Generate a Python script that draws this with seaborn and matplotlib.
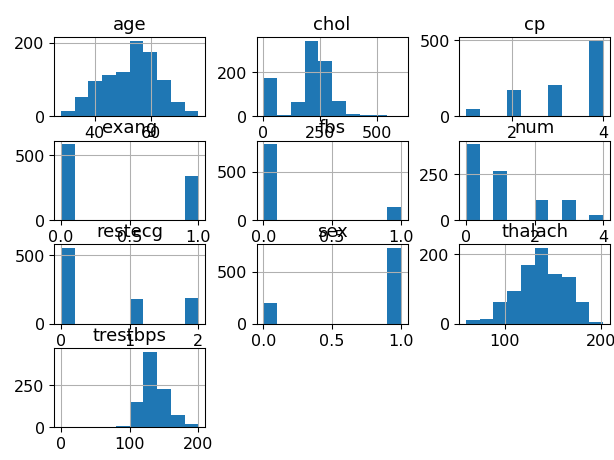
import numpy as np
import pandas as pd
import matplotlib
matplotlib.use("Agg")
import matplotlib.pyplot as plt
import seaborn as sns

# --- dati (conteggi per ogni barra, 10 bin per variabile) ---
columns = ["age", "chol", "cp", "exang", "fbs", "num", "restecg", "sex", "thalach", "trestbps"]

# variabili continue: intervallo (min, max) e conteggi dei 10 bin
age_range = (28, 77)
age_counts = [14, 51, 95, 113, 120, 205, 175, 99, 38, 14]
chol_range = (0, 603)
chol_counts = [172, 5, 64, 342, 248, 70, 12, 4, 3, 2]
thalach_range = (60, 202)
thalach_counts = [10, 14, 62, 93, 170, 217, 144, 134, 62, 5]
trestbps_range = (0, 200)
trestbps_counts = [1, 0, 0, 0, 10, 148, 447, 224, 73, 18]

# variabili discrete: valori e frequenze
cp_values = [1, 2, 3, 4]
cp_counts = [46, 174, 204, 496]
exang_values = [0, 1]
exang_counts = [583, 337]
fbs_values = [0, 1]
fbs_counts = [782, 138]
num_values = [0, 1, 2, 3, 4]
num_counts = [411, 265, 109, 107, 28]
restecg_values = [0, 1, 2]
restecg_counts = [553, 179, 188]
sex_values = [0, 1]
sex_counts = [194, 726]

# tick degli assi
xticks = {
    "age": [40, 60], "chol": [0, 250, 500], "cp": [2, 4], "exang": [0.0, 0.5, 1.0],
    "fbs": [0.0, 0.5, 1.0], "num": [0, 2, 4], "restecg": [0, 1, 2], "sex": [0.0, 0.5, 1.0],
    "thalach": [100, 200], "trestbps": [0, 100, 200],
}
yticks = {
    "age": [0, 200], "chol": [0, 200], "cp": [0, 500], "exang": [0, 500], "fbs": [0, 500],
    "num": [0, 250], "restecg": [0, 500], "sex": [0, 500], "thalach": [0, 200], "trestbps": [0, 250],
}


def continuous(rng, counts):
    # centro di ogni bin, pesato con il conteggio
    edges = np.linspace(rng[0], rng[1], len(counts) + 1)
    centers = (edges[:-1] + edges[1:]) / 2
    return centers, counts, rng


def discrete(values, counts):
    return values, counts, (min(values), max(values))


data = {
    "age": continuous(age_range, age_counts),
    "chol": continuous(chol_range, chol_counts),
    "cp": discrete(cp_values, cp_counts),
    "exang": discrete(exang_values, exang_counts),
    "fbs": discrete(fbs_values, fbs_counts),
    "num": discrete(num_values, num_counts),
    "restecg": discrete(restecg_values, restecg_counts),
    "sex": discrete(sex_values, sex_counts),
    "thalach": continuous(thalach_range, thalach_counts),
    "trestbps": continuous(trestbps_range, trestbps_counts),
}

plt.rcParams["font.family"] = ["DejaVu Sans"]

fig, axes = plt.subplots(4, 3, figsize=(6.4, 4.8), dpi=96)
fig.subplots_adjust(left=0.088, right=0.993, top=0.918, bottom=0.071, wspace=0.34, hspace=0.31)

for i, ax in enumerate(axes.flat):
    if i >= len(columns):
        ax.set_visible(False)
        continue
    col = columns[i]
    x, w, rng = data[col]
    df = pd.DataFrame({"x": np.asarray(x, dtype=float), "w": np.asarray(w, dtype=float)})
    sns.histplot(data=df, x="x", weights="w", bins=10, binrange=rng, ax=ax,
                 color="#1f77b4", alpha=1, linewidth=0, edgecolor="none")
    ax.set_title(col, fontsize=13.5)
    ax.set_xlabel("")
    ax.set_ylabel("")
    ax.set_xticks(xticks[col])
    ax.set_yticks(yticks[col])
    ax.tick_params(labelsize=12)
    ax.grid(True)

plt.savefig("out.png", dpi=96)
